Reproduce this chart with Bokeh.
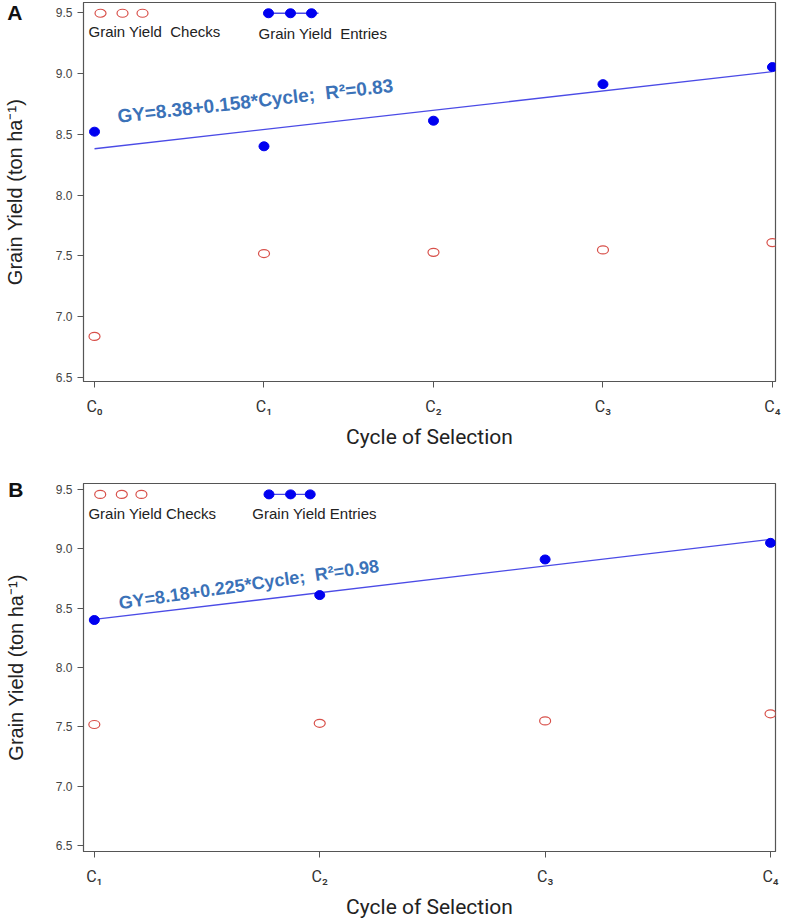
from bokeh.plotting import figure
from bokeh.models import Range1d, Label, FixedTicker, LinearAxis
from bokeh.layouts import column
from bokeh.embed import file_html
from bokeh.resources import INLINE

# ---------------- data ----------------
cycles_a = [0, 1, 2, 3, 4]
tick_labels_a = ["C\u2080", "C\u2081", "C\u2082", "C\u2083", "C\u2084"]
entries_a = [8.52, 8.40, 8.61, 8.91, 9.05]
checks_a = [6.84, 7.52, 7.53, 7.55, 7.61]
intercept_a, slope_a = 8.38, 0.158
eq_a = "GY=8.38+0.158*Cycle;\u00a0 R\u00b2=0.83"

cycles_b = [1, 2, 3, 4]
tick_labels_b = ["C\u2081", "C\u2082", "C\u2083", "C\u2084"]
entries_b = [8.40, 8.61, 8.91, 9.05]
checks_b = [7.52, 7.53, 7.55, 7.61]
intercept_b, slope_b = 8.18, 0.225
eq_b = "GY=8.18+0.225*Cycle;\u00a0 R\u00b2=0.98"

y_ticks = [6.5, 7.0, 7.5, 8.0, 8.5, 9.0, 9.5]
panel_letters = ["A", "B"]
y_title = "Grain Yield (ton ha\u207b\u00b9)"
x_title = "Cycle of Selection"

RED = "#d8504a"
BLUE = "#0000f0"
LINE = "#4b4be6"
EQ = "#3b72b8"
AX = "#555555"
NARROW = "Roboto"
SANS = "Liberation Sans"


def make_panel(letter, cycles, labels, entries, checks, b0, b1, eq,
               xr, yr, width, height, bl, br, bt, bb, xmap, ymap,
               eq_pos, eq_angle, eq_size, leg, two_space, letter_standoff):
    p = figure(width=width, height=height, output_backend="svg",
               toolbar_location=None, x_range=Range1d(*xr), y_range=Range1d(*yr),
               min_border_left=bl, min_border_right=br,
               min_border_top=bt, min_border_bottom=bb)
    p.grid.visible = False
    p.outline_line_color = AX
    p.outline_line_width = 1.2
    p.background_fill_color = "white"
    p.border_fill_color = "white"

    # x axis
    p.xaxis.ticker = FixedTicker(ticks=cycles)
    p.xaxis.major_label_overrides = {c: l for c, l in zip(cycles, labels)}
    p.xaxis.axis_label = x_title
    p.xaxis.axis_label_text_font = NARROW
    p.xaxis.axis_label_text_font_style = "normal"
    p.xaxis.axis_label_text_font_size = "21px"
    p.xaxis.axis_label_text_color = "#222222"
    p.xaxis.axis_label_standoff = 6
    p.xaxis.major_label_text_font = NARROW
    p.xaxis.major_label_text_font_size = "16px"
    p.xaxis.major_label_text_color = "#333333"
    p.xaxis.major_label_standoff = 9

    # y axis (tick labels only)
    p.yaxis.ticker = FixedTicker(ticks=y_ticks)
    p.yaxis.major_label_overrides = {t: f"{t:.1f}" for t in y_ticks}
    p.yaxis.major_label_text_font = SANS
    p.yaxis.major_label_text_font_size = "12px"
    p.yaxis.major_label_text_color = "#444444"
    p.yaxis.major_label_standoff = 5

    for ax in (p.xaxis, p.yaxis):
        ax.axis_line_color = AX
        ax.major_tick_line_color = AX
        ax.major_tick_out = 6
        ax.major_tick_in = 0
        ax.minor_tick_line_color = None

    # outer left axis: carries the panel letter (at the top tick) and the y title
    top = y_ticks[-1]
    outer = LinearAxis(ticker=FixedTicker(ticks=[top]),
                       major_label_overrides={top: letter},
                       axis_line_color=None, major_tick_line_color=None,
                       minor_tick_line_color=None, major_tick_out=0, major_tick_in=0,
                       major_label_standoff=letter_standoff,
                       major_label_text_font=SANS, major_label_text_font_style="bold",
                       major_label_text_font_size="21px", major_label_text_color="#111111",
                       major_label_orientation="horizontal",
                       axis_label=y_title, axis_label_text_font=SANS,
                       axis_label_text_font_style="normal", axis_label_text_font_size="20px",
                       axis_label_text_color="#222222", axis_label_standoff=-22)
    p.add_layout(outer, "left")

    # regression line
    x0, x1 = cycles[0], cycles[-1]
    p.line([x0, x1], [b0 + b1 * x0, b0 + b1 * x1], line_color=LINE, line_width=1.3)

    # data points
    p.ellipse(cycles, checks, width=11, height=8, width_units="screen",
              height_units="screen", fill_color=None, line_color=RED, line_width=1.2)
    p.ellipse(cycles, entries, width=10, height=9, width_units="screen",
              height_units="screen", fill_color=BLUE, line_color=BLUE)

    # equation
    p.add_layout(Label(x=xmap(eq_pos[0]), y=ymap(eq_pos[1]), text=eq, angle=eq_angle,
                       text_font=SANS, text_font_style="bold", text_font_size=eq_size,
                       text_color=EQ, text_baseline="alphabetic"))

    # legend (drawn manually as in the original)
    (rx, ry, rlx, rly, bx, by, bl0, bl1, blx, bly) = leg
    p.ellipse([xmap(v) for v in rx], [ymap(ry)] * 3, width=11, height=8,
              width_units="screen", height_units="screen", fill_color=None,
              line_color=RED, line_width=1.2)
    p.line([xmap(bl0), xmap(bl1)], [ymap(by)] * 2, line_color=LINE, line_width=1.3)
    p.ellipse([xmap(v) for v in bx], [ymap(by)] * 3, width=10, height=9,
              width_units="screen", height_units="screen", fill_color=BLUE, line_color=BLUE)
    sep = "\u00a0\u00a0" if two_space else " "
    p.add_layout(Label(x=xmap(rlx), y=ymap(rly), text="Grain Yield" + sep + "Checks",
                       text_font=SANS, text_font_size="15px", text_color="#222222",
                       text_baseline="middle", text_align="left"))
    p.add_layout(Label(x=xmap(blx), y=ymap(bly), text="Grain Yield" + sep + "Entries",
                       text_font=SANS, text_font_size="15px", text_color="#222222",
                       text_baseline="middle", text_align="left"))
    return p


# pixel -> data helpers (reference layout)
def xA(px):
    return (px - 94) / 169.5


def yA(py):
    return 9.5 - (py - 12) / 121.7


def xB(px):
    return 1 + (px - 89) / 229.7


def yB(py):
    return 9.5 - (py - 489) / 120.0


pA = make_panel(panel_letters[0], cycles_a, tick_labels_a, entries_a, checks_a,
                intercept_a, slope_a, eq_a,
                (-0.065, 4.018), (6.47, 9.58), 790, 451, 83, 15, 2, 70, xA, yA,
                (117, 116), 0.112, "19px",
                ([100, 122, 142], 13, 88, 31, [268, 290, 311], 13, 268, 318, 258, 33),
                True, 30)

pB = make_panel(panel_letters[1], cycles_b, tick_labels_b, entries_b, checks_b,
                intercept_b, slope_b, eq_b,
                (0.952, 4.022), (6.45, 9.55), 790, 470, 78, 9, 32, 66, xB, yB,
                (114, 604), 0.143, "18px",
                ([95, 117, 137], 494, 83, 513, [267, 289, 309], 494, 267, 313, 250, 513),
                False, 29)

layout = column(pA, pB, spacing=0)
open("out.html", "w").write(file_html(layout, INLINE))
